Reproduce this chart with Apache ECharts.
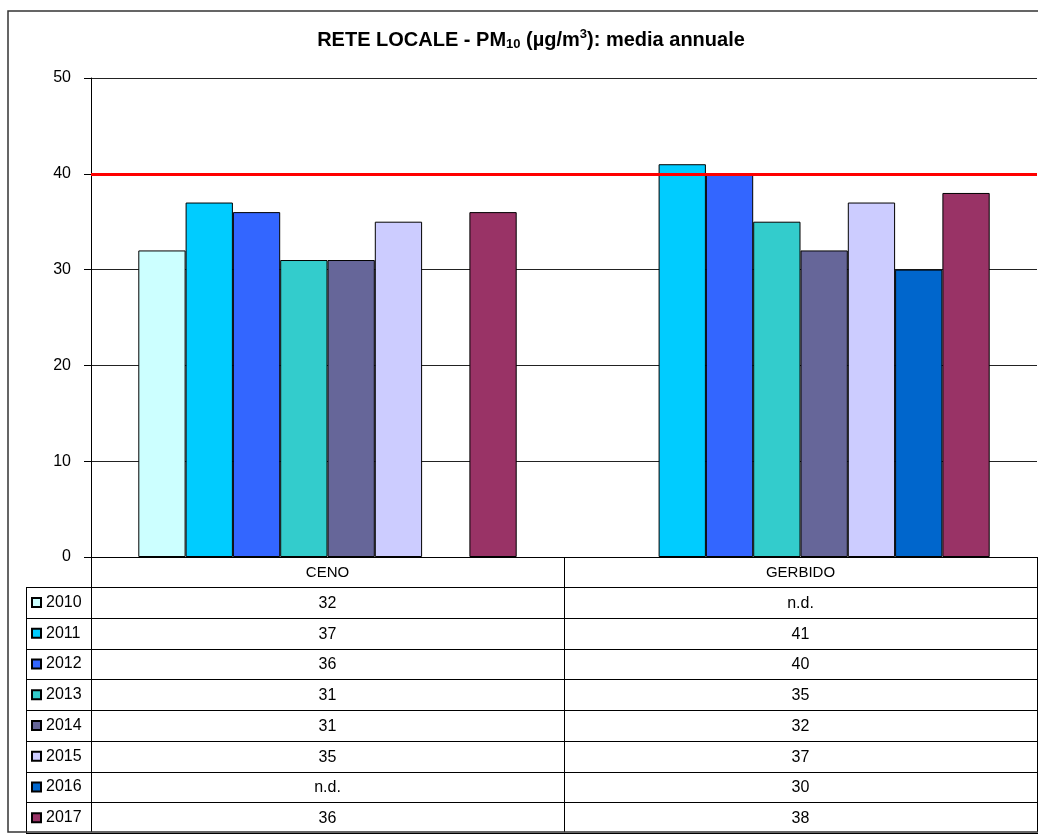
<!DOCTYPE html>
<html><head><meta charset="utf-8">
<script src="https://cdn.jsdelivr.net/npm/echarts@6/dist/echarts.min.js"></script>
<style>html,body{margin:0;padding:0;background:#fff}#c{width:1038px;height:836px}</style>
</head><body><div id="c"></div>
<script>
// ---- data ----
const categories = ['CENO', 'GERBIDO'];
const years = ['2010', '2011', '2012', '2013', '2014', '2015', '2016', '2017'];
const v2010 = [32, null];
const v2011 = [37, 41];
const v2012 = [36, 40];
const v2013 = [31, 35];
const v2014 = [31, 32];
const v2015 = [35, 37];
const v2016 = [null, 30];
const v2017 = [36, 38];
const limitValue = 40;
const yMin = 0, yMax = 50, yInterval = 10;
const missingLabel = 'n.d.';

// ---- style ----
const seriesValues = [v2010, v2011, v2012, v2013, v2014, v2015, v2016, v2017];
const colors = ['#CCFFFF', '#00CCFF', '#3366FF', '#33CCCC', '#666699', '#CCCCFF', '#0066CC', '#993366'];
const FONT = 'Liberation Sans, Arial, sans-serif';
const gridLeft = 91, gridTop = 78, gridBottomY = 557;
const tableTop = 587, rowH = 30.75, tableLeft = 26, tableRight = 1038;

const chart = echarts.init(document.getElementById('c'), null, {renderer: 'canvas'});

const series = years.map((y, i) => {
  const s = {
    name: y,
    type: 'bar',
    data: seriesValues[i],
    itemStyle: {color: colors[i], borderColor: '#000', borderWidth: 1},
    barGap: '0%',
    barCategoryGap: '20%',
    animation: false,
    silent: true
  };
  if (i === 0) {
    s.markLine = {
      silent: true, symbol: 'none', animation: false,
      label: {show: false},
      lineStyle: {color: '#FF0000', width: 3, type: 'solid'},
      data: [{yAxis: limitValue}]
    };
  }
  return s;
});

const option = {
  backgroundColor: '#fff',
  animation: false,
  textStyle: {fontFamily: FONT},
  grid: {left: gridLeft, right: 1, top: gridTop, bottom: 836 - gridBottomY, containLabel: false},
  legend: {
    data: years,
    orient: 'vertical',
    left: 31, top: tableTop,
    padding: 0, itemGap: 0,
    itemWidth: 9, itemHeight: 9, icon: 'rect',
    selectedMode: false,
    textStyle: {fontSize: 16, color: '#000', fontFamily: FONT, lineHeight: rowH}
  },
  xAxis: {
    type: 'category',
    data: categories,
    axisLine: {show: true, lineStyle: {color: '#000', width: 1}},
    axisTick: {show: true, length: 836 - gridBottomY - 4, lineStyle: {color: '#000', width: 1}},
    axisLabel: {fontSize: 15, color: '#000', margin: 8, fontFamily: FONT},
    splitLine: {show: false}
  },
  yAxis: {
    type: 'value',
    min: yMin, max: yMax, interval: yInterval,
    axisLine: {show: true, lineStyle: {color: '#000', width: 1}},
    axisTick: {show: true, length: 7, lineStyle: {color: '#000'}},
    axisLabel: {fontSize: 16, color: '#000', margin: 20, fontFamily: FONT},
    splitLine: {show: true, lineStyle: {color: '#222', width: 1}}
  },
  series: series
};
chart.setOption(option);

// ---- table, title, frame ----
const xCenters = categories.map(c => chart.convertToPixel({xAxisIndex: 0}, c));
const g = [];
g.push({type: 'rect', shape: {x: 8, y: 11, width: 1100, height: 821},
  style: {fill: 'none', stroke: '#333', lineWidth: 1.5}, silent: true, z: 100});
g.push({type: 'text', x: 531, y: 40,
  style: {
    text: '{b|RETE LOCALE - PM}{s|10}{b| (µg/m}{p|3}{b|): media annuale}',
    align: 'center', verticalAlign: 'middle',
    rich: {
      b: {fontSize: 20, fontWeight: 'bold', fontFamily: FONT, fill: '#000'},
      s: {fontSize: 13, fontWeight: 'bold', fontFamily: FONT, fill: '#000', padding: [9, 0, 0, 0]},
      p: {fontSize: 13, fontWeight: 'bold', fontFamily: FONT, fill: '#000', padding: [0, 0, 11, 0]}
    }
  }, silent: true});
for (let r = 0; r <= years.length; r++) {
  const y = Math.round(tableTop + r * rowH) + 0.5;
  g.push({type: 'line', shape: {x1: tableLeft, y1: y, x2: tableRight, y2: y},
    style: {stroke: '#000', lineWidth: 1}, silent: true});
}
g.push({type: 'line', shape: {x1: tableLeft + 0.5, y1: tableTop, x2: tableLeft + 0.5, y2: tableTop + years.length * rowH},
  style: {stroke: '#000', lineWidth: 1}, silent: true});
years.forEach((yr, r) => {
  categories.forEach((c, ci) => {
    const v = seriesValues[r][ci];
    g.push({type: 'text', x: xCenters[ci], y: tableTop + r * rowH + rowH / 2 + 1,
      style: {text: v == null ? missingLabel : String(v), align: 'center', verticalAlign: 'middle',
        fontSize: 16, fontFamily: FONT, fill: '#000'}, silent: true});
  });
});
chart.setOption({graphic: g});
</script></body></html>
